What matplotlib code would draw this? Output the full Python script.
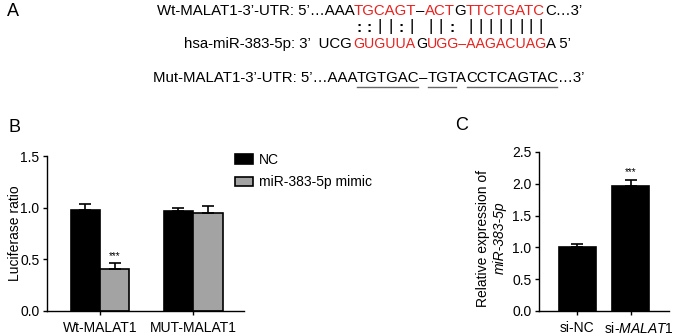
"""luciferase reporter and qPCR figure (panels A, B, C)
"""
import numpy as np
import matplotlib
matplotlib.use("Agg")
import matplotlib.pyplot as plt
import matplotlib.transforms as mtransforms
from matplotlib.lines import Line2D
from matplotlib.ticker import FormatStrFormatter

plt.rcParams['font.family'] = ['Liberation Sans', 'DejaVu Sans']
plt.rcParams['mathtext.fontset'] = 'custom'
plt.rcParams['mathtext.rm'] = 'Liberation Sans'
plt.rcParams['mathtext.it'] = 'Liberation Sans:italic'

RED = '#e8231f'
GRAY = '#a3a3a3'

# panel A sequences (1 = red letter)
wt_prefix = "Wt-MALAT1-3\u2019-UTR: 5\u2019\u2026AAA"
wt_core = "TGCAGT\u2013ACTGTTCTGATC"
wt_core_red = [1, 1, 1, 1, 1, 1, 0, 1, 1, 1, 0, 1, 1, 1, 1, 1, 1, 1, 1]
wt_suffix = "C\u20263\u2019"
mir_prefix = "hsa-miR-383-5p: 3\u2019  UCG"
mir_core = "GUGUUAGUGG\u2013AAGACUAG"
mir_core_red = [1, 1, 1, 1, 1, 1, 0, 1, 1, 1, 1, 1, 1, 1, 1, 1, 1, 1, 1]
mir_suffix = "A 5\u2019"
pairs = [':', ':', '|', '|', ':', '|', '', '|', '|', ':', '',
         '|', '|', '|', '|', '|', '|', '|', '|']
mut_parts = ["Mut-MALAT1-3\u2019-UTR: 5\u2019\u2026AAA", "TGTGAC", "\u2013", "TGT",
             "A", "CCTCAGTAC", "\u20263\u2019"]
mut_underline = [0, 1, 0, 1, 0, 1, 0]

# panel B data
groups_b = ['Wt-MALAT1', 'MUT-MALAT1']
nc_vals = [0.98, 0.97]
nc_err = [0.06, 0.03]
mimic_vals = [0.41, 0.945]
mimic_err = [0.05, 0.075]
legend_b = ['NC', 'miR-383-5p mimic']

# panel C data
groups_c = ['si-NC', 'si-$\\mathit{MALAT1}$']
expr_vals = [1.0, 1.97]
expr_err = [0.05, 0.09]

W, H = 680, 336
fig = plt.figure(figsize=(W / 100, H / 100), dpi=100)
renderer = fig.canvas.get_renderer()


def fx(px):
    return px / W


def fy(py):
    return 1 - py / H


def measure(s, size):
    t = fig.text(0, 0, s, fontsize=size)
    w = t.get_window_extent(renderer).width
    t.remove()
    return w


def char_lefts(s, x0, size):
    # pen position of every char when s is drawn starting at x0
    lefts = [x0]
    for i in range(1, len(s)):
        lefts.append(x0 + measure(s[:i + 1], size) - measure(s[i], size))
    return lefts


def draw_line(x0, y, s, colors, unders, size):
    lefts = char_lefts(s, x0, size)
    i = 0
    while i < len(s):
        j = i
        while j < len(s) and colors[j] == colors[i] and unders[j] == unders[i]:
            j += 1
        fig.text(fx(lefts[i]), fy(y), s[i:j], fontsize=size, va='center',
                 color=colors[i])
        if unders[i]:
            x1 = lefts[j - 1] + measure(s[j - 1], size)
            fig.add_artist(Line2D([fx(lefts[i] + 1), fx(x1 - 1)], [fy(y + 8.5)] * 2,
                                  transform=fig.transFigure, color='#666666',
                                  lw=1.0))
        i = j
    return lefts


y_wt, y_pair, y_mir, y_mut = 11, 27, 44, 78

wt_line = wt_prefix + wt_core + wt_suffix
SEQ = 10.0 * 426 / measure(wt_line, 10.0)

wt_colors = (['black'] * len(wt_prefix)
             + [RED if r else 'black' for r in wt_core_red]
             + ['black'] * len(wt_suffix))
lefts = draw_line(157, y_wt, wt_line, wt_colors, [0] * len(wt_line), SEQ)

n0 = len(wt_prefix)
wt_centers = [lefts[n0 + i] + measure(c, SEQ) / 2 for i, c in enumerate(wt_core)]
core_left = lefts[n0]
suffix_left = lefts[n0 + len(wt_core)]

# miRNA line: core squeezed a little so it spans the same width as the target
fig.text(fx(core_left - 2), fy(y_mir), mir_prefix, fontsize=SEQ, va='center',
         ha='right')
size_m = SEQ * (suffix_left - core_left) / measure(mir_core, SEQ)
mlefts = draw_line(core_left, y_mir, mir_core,
                   [RED if r else 'black' for r in mir_core_red],
                   [0] * len(mir_core), size_m)
mir_centers = [mlefts[i] + measure(c, size_m) / 2 for i, c in enumerate(mir_core)]
fig.text(fx(suffix_left + 1), fy(y_mir), mir_suffix, fontsize=SEQ, va='center')

# pairing marks between the two strands
for cw, cm, p in zip(wt_centers, mir_centers, pairs):
    cx = (cw + cm) / 2
    if p == '|':
        fig.text(fx(cx), fy(y_pair), p, fontsize=12, ha='center', va='center')
    elif p == ':':
        fig.text(fx(cx), fy(y_pair + 1), p, fontsize=SEQ, ha='center',
                 va='center', fontweight='bold')

# mutant line
mut_line = ''.join(mut_parts)
mut_unders = []
for part, ul in zip(mut_parts, mut_underline):
    mut_unders += [ul] * len(part)
draw_line(153, y_mut, mut_line, ['black'] * len(mut_line), mut_unders, SEQ)

# panel letters
fig.text(fx(7), fy(12), 'A', fontsize=13, va='center')
fig.text(fx(8), fy(127), 'B', fontsize=13, va='center')
fig.text(fx(455), fy(125), 'C', fontsize=13, va='center')


def style(ax):
    for s in ['top', 'right']:
        ax.spines[s].set_visible(False)
    for s in ['left', 'bottom']:
        ax.spines[s].set_linewidth(1.0)
    ax.tick_params(length=3, width=1.0, labelsize=10, pad=2.5)
    ax.tick_params(axis='x', pad=4)
    ax.yaxis.set_major_formatter(FormatStrFormatter('%.1f'))


# panel B
axB = fig.add_axes([fx(47), fy(311), fx(244) - fx(47), fy(156) - fy(311)])
xb = np.arange(len(groups_b))
w = 0.315
axB.bar(xb - w / 2, nc_vals, w, color='black', edgecolor='black', lw=1.2,
        label=legend_b[0])
axB.bar(xb + w / 2, mimic_vals, w, color=GRAY, edgecolor='black', lw=1.2,
        label=legend_b[1])
axB.errorbar(xb - w / 2, nc_vals, yerr=[np.zeros(2), nc_err], fmt='none',
             ecolor='black', elinewidth=1.2, capsize=4.5, capthick=1.2)
axB.errorbar(xb + w / 2, mimic_vals, yerr=[np.zeros(2), mimic_err], fmt='none',
             ecolor='black', elinewidth=1.2, capsize=4.5, capthick=1.2)
axB.text(xb[0] + w / 2, mimic_vals[0] + mimic_err[0] + 0.02, '***',
         ha='center', va='bottom', fontsize=7)
axB.set_xlim(-0.567, 1.545)
axB.set_ylim(0, 1.5)
axB.set_yticks([0, 0.5, 1.0, 1.5])
axB.set_xticks(xb)
axB.set_xticklabels(groups_b)
style(axB)
fig.text(fx(15), fy(233), 'Luciferase ratio', rotation=90, fontsize=10,
         ha='center', va='center')
axB.legend(loc='upper left', bbox_to_anchor=(fx(235), fy(153)),
           bbox_transform=fig.transFigure, frameon=False, fontsize=10,
           borderaxespad=0, borderpad=0, handlelength=1.3, handleheight=0.7,
           handletextpad=0.4, labelspacing=0.6)

# panel C
axC = fig.add_axes([fx(539), fy(311), fx(669) - fx(539), fy(152) - fy(311)])
xc = np.arange(len(groups_c))
wc = 0.69
axC.bar(xc, expr_vals, wc, color='black', edgecolor='black', lw=1.2)
axC.errorbar(xc, expr_vals, yerr=[np.zeros(2), expr_err], fmt='none',
             ecolor='black', elinewidth=1.2, capsize=4.5, capthick=1.2)
axC.text(xc[1], expr_vals[1] + expr_err[1] + 0.04, '***', ha='center',
         va='bottom', fontsize=7)
axC.set_xlim(-0.72, 1.72)
axC.set_ylim(0, 2.5)
axC.set_yticks([0, 0.5, 1.0, 1.5, 2.0, 2.5])
axC.set_xticks(xc)
axC.set_xticklabels(groups_c)
style(axC)
# the long label sits a little right of its tick, as in the source figure
lab = axC.get_xticklabels()[1]
lab.set_transform(lab.get_transform()
                  + mtransforms.ScaledTranslation(8 / 100, 0, fig.dpi_scale_trans))
fig.text(fx(483), fy(238), 'Relative expression of', rotation=90, fontsize=10,
         ha='center', va='center')
fig.text(fx(500), fy(238), 'miR-383-5p', rotation=90, fontsize=10,
         ha='center', va='center', style='italic')

fig.savefig('out.png', dpi=100)
